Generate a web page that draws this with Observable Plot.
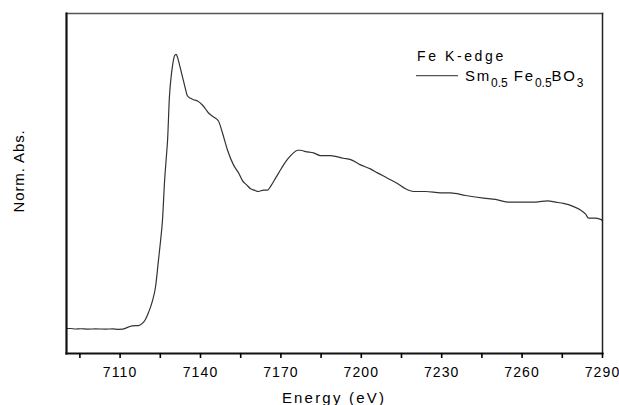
<!DOCTYPE html>
<html>
<head>
<meta charset="utf-8">
<script src="https://cdn.jsdelivr.net/npm/d3@7"></script>
<script src="https://cdn.jsdelivr.net/npm/@observablehq/plot@0.6"></script>
<style>
  html, body { margin: 0; padding: 0; background: #fff; }
  #wrap { position: relative; width: 619px; height: 405px; font-family: "Liberation Sans", Arial, sans-serif; }
  #wrap svg.plot text { letter-spacing: 1.1px; }
  .ov { position: absolute; left: 0; top: 0; pointer-events: none; }
  .ov text { font-family: "Liberation Sans", Arial, sans-serif; fill: #000; }
</style>
</head>
<body>
<div id="wrap"></div>
<script>
// Energy (eV)
const energy = [7090.0, 7091.5, 7093.4, 7095.2, 7098.2, 7100.8, 7104.6, 7107.2, 7109.4, 7110.9,
  7112.8, 7114.6, 7116.9, 7118.4, 7119.5, 7120.6, 7122.1, 7123.2, 7124.3, 7125.1,
  7125.8, 7126.6, 7127.3, 7127.7, 7128.4, 7129.2, 7129.6, 7130.3, 7130.9, 7131.4,
  7132.2, 7133.3, 7134.4, 7135.1, 7136.3, 7137.4, 7138.9, 7140.7, 7141.9, 7143.0,
  7144.9, 7146.7, 7148.2, 7150.1, 7152.3, 7154.2, 7155.7, 7157.2, 7158.7, 7160.1,
  7161.6, 7163.5, 7165.0, 7166.5, 7168.0, 7169.5, 7171.0, 7172.8, 7174.7, 7176.2,
  7177.3, 7179.2, 7182.2, 7184.8, 7188.5, 7191.1, 7193.4, 7196.0, 7199.7, 7203.4,
  7206.0, 7209.8, 7213.5, 7216.5, 7219.5, 7224.0, 7229.6, 7233.3, 7238.9, 7245.6,
  7250.1, 7254.6, 7257.5, 7260.5, 7265.0, 7269.5, 7272.5, 7275.4, 7278.8, 7281.8,
  7283.7, 7284.8, 7287.0, 7289.3, 7290.0];
// Normalized absorbance
const absorbance = [0.000, 0.000, -0.004, -0.002, -0.005, -0.003, -0.005, -0.003, -0.006, -0.005,
  0.008, 0.02, 0.022, 0.04, 0.07, 0.12, 0.21, 0.31, 0.51, 0.66,
  0.81, 1.11, 1.30, 1.41, 1.74, 1.92, 1.98, 2.05, 2.06, 2.04,
  1.98, 1.89, 1.80, 1.75, 1.73, 1.72, 1.71, 1.68, 1.65, 1.62,
  1.59, 1.56, 1.47, 1.34, 1.23, 1.17, 1.11, 1.08, 1.05, 1.04,
  1.03, 1.04, 1.04, 1.08, 1.13, 1.18, 1.23, 1.28, 1.32, 1.34,
  1.34, 1.33, 1.32, 1.30, 1.30, 1.29, 1.28, 1.27, 1.23, 1.20,
  1.17, 1.13, 1.09, 1.05, 1.03, 1.03, 1.02, 1.02, 1.00, 0.98,
  0.97, 0.95, 0.95, 0.95, 0.95, 0.96, 0.95, 0.94, 0.92, 0.89,
  0.86, 0.83, 0.83, 0.82, 0.81];

const xTicks = [7095, 7110, 7125, 7140, 7155, 7170, 7185, 7200, 7215, 7230, 7245, 7260, 7275, 7290];
const xTickLabels = [7110, 7140, 7170, 7200, 7230, 7260, 7290];
const xDomain = [7090, 7290];
const yDomain = [-0.188, 2.368];

const xTitle = "Energy (eV)";
const yTitle = "Norm. Abs.";
const legendTitle = "Fe K-edge";
const seriesName = [["Sm", ""], ["0.5", "sub"], [" Fe", ""], ["0.5", "sub"], ["BO", ""], ["3", "sub"]];

const data = energy.map((e, i) => ({e, a: absorbance[i]}));

const W = 619, H = 405;
const mL = 66, mR = 17, mT = 13, mB = 52;

const chart = Plot.plot({
  width: W, height: H,
  marginLeft: mL, marginRight: mR, marginTop: mT, marginBottom: mB,
  className: "plot",
  style: {fontFamily: "'Liberation Sans', Arial, sans-serif", fontSize: "14px", color: "#000", background: "#fff"},
  x: {domain: xDomain},
  y: {domain: yDomain},
  marks: [
    Plot.line(data, {x: "e", y: "a", stroke: "#333", strokeWidth: 1.2, curve: "monotone-x"}),
    Plot.frame({anchor: "top", stroke: "#555", strokeWidth: 1.5}),
    Plot.frame({anchor: "right", stroke: "#222", strokeWidth: 1.5}),
    Plot.frame({anchor: "left", stroke: "#111", strokeWidth: 2.2}),
    Plot.frame({anchor: "bottom", stroke: "#111", strokeWidth: 2.2}),
    Plot.axisX({ticks: xTicks, tickFormat: d => xTickLabels.includes(d) ? String(d) : "",
      tickSize: 5, tickPadding: 9, strokeWidth: 1.6, label: null}),
    Plot.axisY({ticks: [], label: null})
  ]
});

const wrap = document.getElementById("wrap");
wrap.appendChild(chart);

// overlay for titles and legend
const x = d3.scaleLinear().domain(xDomain).range([mL, W - mR]);
const ov = d3.select(wrap).append("svg").attr("class", "ov").attr("width", W).attr("height", H);

ov.append("text").attr("x", x((xDomain[0] + xDomain[1]) / 2)).attr("y", 403)
  .attr("text-anchor", "middle").style("font-size", "15px").style("letter-spacing", "2.2px").text(xTitle);

ov.append("text").attr("transform", "translate(24,171) rotate(-90)")
  .attr("text-anchor", "middle").style("font-size", "15px").style("letter-spacing", "0.9px").text(yTitle);

ov.append("text").attr("x", 417).attr("y", 61).style("font-size", "14px").style("letter-spacing", "2.6px").text(legendTitle);
ov.append("line").attr("x1", 416).attr("x2", 458).attr("y1", 75.7).attr("y2", 75.7)
  .attr("stroke", "#555").attr("stroke-width", 1.3);
const t = ov.append("text").attr("x", 465).attr("y", 80.7).style("font-size", "15px").style("letter-spacing", "1.8px");
seriesName.forEach(([s, kind], i) => {
  const ts = t.append("tspan").text(s);
  const prev = i > 0 ? seriesName[i - 1][1] : "";
  if (kind === "sub") ts.style("font-size", "12px").attr("dy", 6).style("letter-spacing", "0px");
  else if (prev === "sub") ts.attr("dy", -6);
});
</script>
</body>
</html>
